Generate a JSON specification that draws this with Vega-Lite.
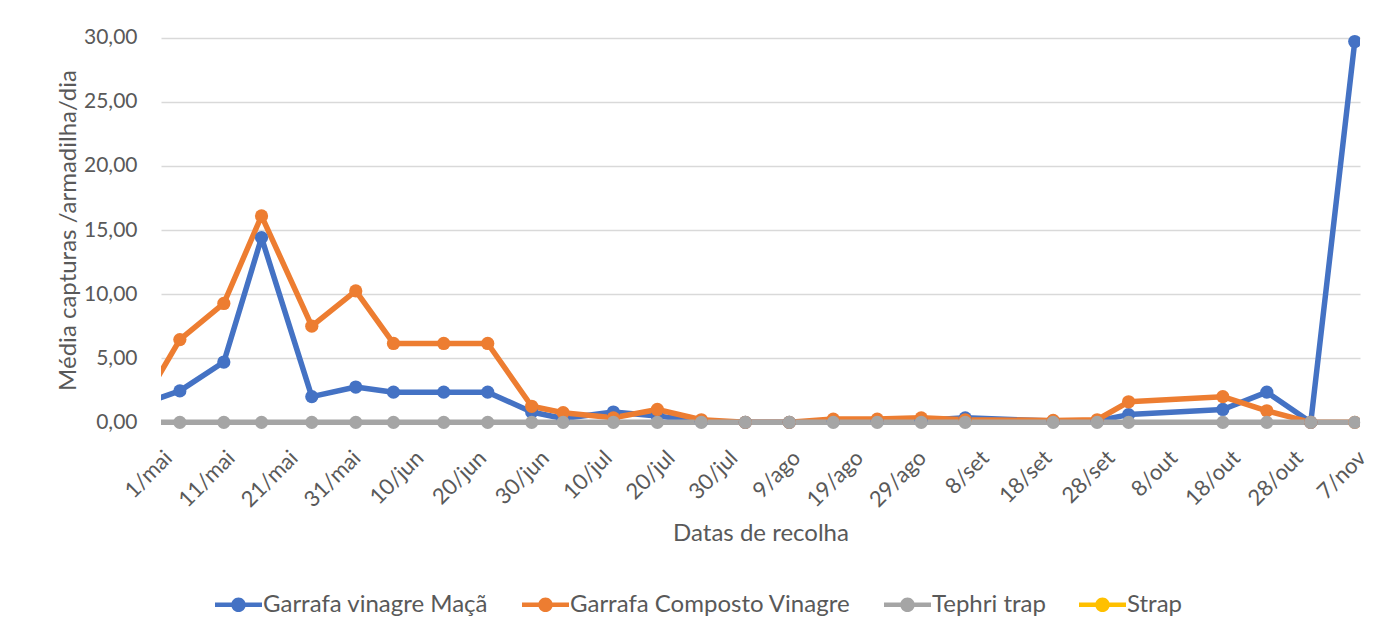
{
  "$schema": "https://vega.github.io/schema/vega-lite/v6.json",
  "width": 1199,
  "height": 400,
  "autosize": {"type": "none"},
  "padding": {"left": 161, "top": 30, "right": 40, "bottom": 206},
  "background": "white",
  "config": {
    "view": {"stroke": null},
    "font": "Lato",
    "axis": {"labelFont": "Lato", "titleFont": "Lato", "titleFontWeight": "normal", "labelColor": "#595959", "titleColor": "#595959"},
    "legend": {"labelFont": "Lato"}
  },
  "data": {
    "values": [
      {"date": "2021-04-27", "series": "Garrafa vinagre Maçã", "value": 1.25},
      {"date": "2021-05-04", "series": "Garrafa vinagre Maçã", "value": 2.45},
      {"date": "2021-05-11", "series": "Garrafa vinagre Maçã", "value": 4.7},
      {"date": "2021-05-17", "series": "Garrafa vinagre Maçã", "value": 14.4},
      {"date": "2021-05-25", "series": "Garrafa vinagre Maçã", "value": 2.0},
      {"date": "2021-06-01", "series": "Garrafa vinagre Maçã", "value": 2.75},
      {"date": "2021-06-07", "series": "Garrafa vinagre Maçã", "value": 2.35},
      {"date": "2021-06-15", "series": "Garrafa vinagre Maçã", "value": 2.35},
      {"date": "2021-06-22", "series": "Garrafa vinagre Maçã", "value": 2.35},
      {"date": "2021-06-29", "series": "Garrafa vinagre Maçã", "value": 0.8},
      {"date": "2021-07-04", "series": "Garrafa vinagre Maçã", "value": 0.3},
      {"date": "2021-07-12", "series": "Garrafa vinagre Maçã", "value": 0.8},
      {"date": "2021-07-19", "series": "Garrafa vinagre Maçã", "value": 0.5},
      {"date": "2021-07-26", "series": "Garrafa vinagre Maçã", "value": 0.05},
      {"date": "2021-08-02", "series": "Garrafa vinagre Maçã", "value": 0},
      {"date": "2021-08-09", "series": "Garrafa vinagre Maçã", "value": 0},
      {"date": "2021-08-16", "series": "Garrafa vinagre Maçã", "value": 0.1},
      {"date": "2021-08-23", "series": "Garrafa vinagre Maçã", "value": 0.1},
      {"date": "2021-08-30", "series": "Garrafa vinagre Maçã", "value": 0.15},
      {"date": "2021-09-06", "series": "Garrafa vinagre Maçã", "value": 0.35},
      {"date": "2021-09-20", "series": "Garrafa vinagre Maçã", "value": 0.1},
      {"date": "2021-09-27", "series": "Garrafa vinagre Maçã", "value": 0.1},
      {"date": "2021-10-02", "series": "Garrafa vinagre Maçã", "value": 0.6},
      {"date": "2021-10-17", "series": "Garrafa vinagre Maçã", "value": 1.0},
      {"date": "2021-10-24", "series": "Garrafa vinagre Maçã", "value": 2.35},
      {"date": "2021-10-31", "series": "Garrafa vinagre Maçã", "value": 0},
      {"date": "2021-11-07", "series": "Garrafa vinagre Maçã", "value": 29.7},
      {"date": "2021-04-27", "series": "Garrafa Composto Vinagre", "value": 0.6},
      {"date": "2021-05-04", "series": "Garrafa Composto Vinagre", "value": 6.45},
      {"date": "2021-05-11", "series": "Garrafa Composto Vinagre", "value": 9.27},
      {"date": "2021-05-17", "series": "Garrafa Composto Vinagre", "value": 16.1},
      {"date": "2021-05-25", "series": "Garrafa Composto Vinagre", "value": 7.5},
      {"date": "2021-06-01", "series": "Garrafa Composto Vinagre", "value": 10.25},
      {"date": "2021-06-07", "series": "Garrafa Composto Vinagre", "value": 6.15},
      {"date": "2021-06-15", "series": "Garrafa Composto Vinagre", "value": 6.15},
      {"date": "2021-06-22", "series": "Garrafa Composto Vinagre", "value": 6.15},
      {"date": "2021-06-29", "series": "Garrafa Composto Vinagre", "value": 1.25},
      {"date": "2021-07-04", "series": "Garrafa Composto Vinagre", "value": 0.75},
      {"date": "2021-07-12", "series": "Garrafa Composto Vinagre", "value": 0.35},
      {"date": "2021-07-19", "series": "Garrafa Composto Vinagre", "value": 1.0},
      {"date": "2021-07-26", "series": "Garrafa Composto Vinagre", "value": 0.2},
      {"date": "2021-08-02", "series": "Garrafa Composto Vinagre", "value": 0},
      {"date": "2021-08-09", "series": "Garrafa Composto Vinagre", "value": 0},
      {"date": "2021-08-16", "series": "Garrafa Composto Vinagre", "value": 0.25},
      {"date": "2021-08-23", "series": "Garrafa Composto Vinagre", "value": 0.25},
      {"date": "2021-08-30", "series": "Garrafa Composto Vinagre", "value": 0.35},
      {"date": "2021-09-06", "series": "Garrafa Composto Vinagre", "value": 0.2},
      {"date": "2021-09-20", "series": "Garrafa Composto Vinagre", "value": 0.15},
      {"date": "2021-09-27", "series": "Garrafa Composto Vinagre", "value": 0.2},
      {"date": "2021-10-02", "series": "Garrafa Composto Vinagre", "value": 1.6},
      {"date": "2021-10-17", "series": "Garrafa Composto Vinagre", "value": 2.0},
      {"date": "2021-10-24", "series": "Garrafa Composto Vinagre", "value": 0.9},
      {"date": "2021-10-31", "series": "Garrafa Composto Vinagre", "value": 0},
      {"date": "2021-11-07", "series": "Garrafa Composto Vinagre", "value": 0},
      {"date": "2021-04-27", "series": "Tephri trap", "value": 0},
      {"date": "2021-05-04", "series": "Tephri trap", "value": 0},
      {"date": "2021-05-11", "series": "Tephri trap", "value": 0},
      {"date": "2021-05-17", "series": "Tephri trap", "value": 0},
      {"date": "2021-05-25", "series": "Tephri trap", "value": 0},
      {"date": "2021-06-01", "series": "Tephri trap", "value": 0},
      {"date": "2021-06-07", "series": "Tephri trap", "value": 0},
      {"date": "2021-06-15", "series": "Tephri trap", "value": 0},
      {"date": "2021-06-22", "series": "Tephri trap", "value": 0},
      {"date": "2021-06-29", "series": "Tephri trap", "value": 0},
      {"date": "2021-07-04", "series": "Tephri trap", "value": 0},
      {"date": "2021-07-12", "series": "Tephri trap", "value": 0},
      {"date": "2021-07-19", "series": "Tephri trap", "value": 0},
      {"date": "2021-07-26", "series": "Tephri trap", "value": 0},
      {"date": "2021-08-02", "series": "Tephri trap", "value": 0},
      {"date": "2021-08-09", "series": "Tephri trap", "value": 0},
      {"date": "2021-08-16", "series": "Tephri trap", "value": 0},
      {"date": "2021-08-23", "series": "Tephri trap", "value": 0},
      {"date": "2021-08-30", "series": "Tephri trap", "value": 0},
      {"date": "2021-09-06", "series": "Tephri trap", "value": 0},
      {"date": "2021-09-20", "series": "Tephri trap", "value": 0},
      {"date": "2021-09-27", "series": "Tephri trap", "value": 0},
      {"date": "2021-10-02", "series": "Tephri trap", "value": 0},
      {"date": "2021-10-17", "series": "Tephri trap", "value": 0},
      {"date": "2021-10-24", "series": "Tephri trap", "value": 0},
      {"date": "2021-10-31", "series": "Tephri trap", "value": 0},
      {"date": "2021-11-07", "series": "Tephri trap", "value": 0}
    ]
  },
  "encoding": {
    "x": {
      "field": "date",
      "type": "temporal",
      "scale": {
        "type": "utc",
        "domain": [
          {"year": 2021, "month": 5, "date": 1, "utc": true},
          {"year": 2021, "month": 11, "date": 7, "hours": 20, "utc": true}
        ]
      },
      "axis": {
        "title": "Datas de recolha",
        "values": [
          {"year": 2021, "month": 5, "date": 1, "utc": true},
          {"year": 2021, "month": 5, "date": 11, "utc": true},
          {"year": 2021, "month": 5, "date": 21, "utc": true},
          {"year": 2021, "month": 5, "date": 31, "utc": true},
          {"year": 2021, "month": 6, "date": 10, "utc": true},
          {"year": 2021, "month": 6, "date": 20, "utc": true},
          {"year": 2021, "month": 6, "date": 30, "utc": true},
          {"year": 2021, "month": 7, "date": 10, "utc": true},
          {"year": 2021, "month": 7, "date": 20, "utc": true},
          {"year": 2021, "month": 7, "date": 30, "utc": true},
          {"year": 2021, "month": 8, "date": 9, "utc": true},
          {"year": 2021, "month": 8, "date": 19, "utc": true},
          {"year": 2021, "month": 8, "date": 29, "utc": true},
          {"year": 2021, "month": 9, "date": 8, "utc": true},
          {"year": 2021, "month": 9, "date": 18, "utc": true},
          {"year": 2021, "month": 9, "date": 28, "utc": true},
          {"year": 2021, "month": 10, "date": 8, "utc": true},
          {"year": 2021, "month": 10, "date": 18, "utc": true},
          {"year": 2021, "month": 10, "date": 28, "utc": true},
          {"year": 2021, "month": 11, "date": 7, "utc": true}
        ],
        "labelExpr": "utcdate(datum.value) + '/' + ['jan','fev','mar','abr','mai','jun','jul','ago','set','out','nov','dez'][utcmonth(datum.value)]",
        "labelAngle": -45,
        "labelFontSize": 22,
        "labelOverlap": false,
        "labelPadding": 17,
        "ticks": false,
        "grid": false,
        "domain": false,
        "titleFontSize": 24,
        "titlePadding": 11
      }
    },
    "y": {
      "field": "value",
      "type": "quantitative",
      "scale": {"domain": [-0.6, 30.6], "nice": false, "zero": false},
      "axis": {
        "title": "Média capturas /armadilha/dia",
        "values": [0, 5, 10, 15, 20, 25, 30],
        "labelExpr": "replace(format(datum.value, '.2f'), '.', ',')",
        "labelFontSize": 21,
        "labelPadding": 24,
        "ticks": false,
        "domain": false,
        "gridColor": "#D9D9D9",
        "gridWidth": 1.5,
        "titleFontSize": 24,
        "titlePadding": 3
      }
    },
    "color": {
      "field": "series",
      "type": "nominal",
      "sort": null,
      "scale": {
        "domain": ["Garrafa vinagre Maçã", "Garrafa Composto Vinagre", "Tephri trap", "Strap"],
        "range": ["#4472C4", "#ED7D31", "#A5A5A5", "#FFC000"]
      },
      "legend": {
        "title": null,
        "orient": "none",
        "legendX": 54,
        "legendY": 551,
        "direction": "horizontal",
        "symbolType": "M-1,-0.1L1,-0.1L1,0.1L-1,0.1Z M-0.31,0A0.31,0.31 0 1,1 0.31,0A0.31,0.31 0 1,1 -0.31,0Z",
        "symbolSize": 2209,
        "symbolStrokeWidth": 0,
        "labelFontSize": 24,
        "labelColor": "#595959",
        "labelOffset": 1,
        "columnPadding": 33,
        "labelLimit": 400,
        "encode": {
          "symbols": {
            "update": {
              "fill": {"scale": "color", "field": "value"},
              "stroke": {"value": "transparent"},
              "opacity": {"value": 1}
            }
          }
        }
      }
    }
  },
  "layer": [
    {
      "mark": {"type": "line", "strokeWidth": 5.5, "clip": true, "strokeJoin": "round"}
    },
    {
      "mark": {"type": "point", "filled": true, "size": 175, "opacity": 1, "clip": true}
    }
  ]
}
